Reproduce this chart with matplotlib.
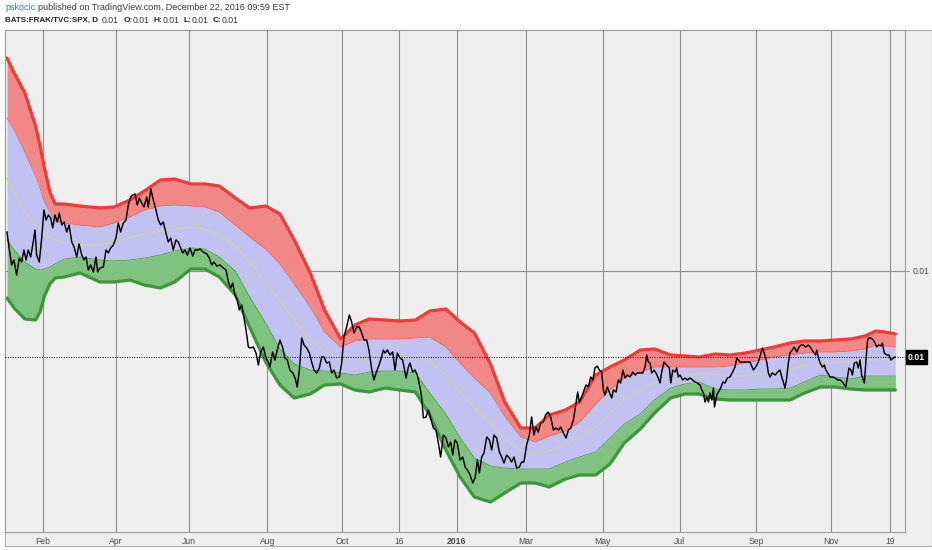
import matplotlib
matplotlib.use("Agg")
import matplotlib.pyplot as plt
import matplotlib.transforms as mtransforms
from matplotlib.patches import Rectangle

W, H = 932, 550

# ---------------- header texts ----------------
author = "pskocic"
published = "published on TradingView.com, December 22, 2016 09:59 EST"
symbol = "BATS:FRAK/TVC:SPX, D"
last_txt = "0.01"
ohlc_labels = ["O:", "H:", "L:", "C:"]
ohlc_values = ["0.01", "0.01", "0.01", "0.01"]

# ---------------- x axis (trading-day index) ----------------
tick_days = [20, 61, 102, 146, 188, 220, 252, 291, 334, 377, 420, 462, 495]
tick_labels = ["Feb", "Apr", "Jun", "Aug", "Oct", "16", "2016", "Mar", "May", "Jul", "Sep", "Nov", "19"]
bold_tick = "2016"

# ---------------- y axis ----------------
ytick_vals = [279]
ytick_labels = ["0.01"]
last_label = "0.01"

# ---------------- band series ----------------
band_day = [0, 4, 10, 16, 18.5, 21, 24, 27, 32, 41, 52, 60,
            69, 77, 86, 94, 103, 111, 119, 128, 136, 145,
            153, 161, 170, 178, 187, 195, 203, 212, 220, 229,
            237, 246, 254, 262, 271, 279, 288, 296, 304, 313,
            321, 330, 338, 346, 355, 363, 372, 380, 388, 397,
            405, 414, 422, 430, 439, 447, 456, 464, 473, 481,
            487, 492, 498]
upper = [492, 477, 457, 424, 404, 382, 358, 346, 346, 344, 342, 343,
         350, 359, 370, 371, 366, 366, 364, 352, 342, 344,
         336, 310, 277, 240, 211, 225, 231, 230, 229, 230,
         239, 241, 228, 217, 186, 148, 122, 122, 135, 140,
         148, 175, 183, 190, 200, 201, 195, 194, 193, 196,
         195, 197, 200, 203, 207, 209, 209, 210, 211, 214,
         219, 218, 216]
upper_inner = [432, 420, 398, 374, 362, 348, 338, 329, 327, 325, 323, 327,
               333, 340, 344, 345, 344, 343, 338, 325, 313, 301,
               286, 266, 243, 218, 203, 209, 211, 211, 211, 212,
               213, 203, 187, 172, 157, 134, 113, 108, 114, 119,
               128, 146, 160, 172, 178, 183, 183, 183, 183, 183,
               184, 187, 190, 193, 195, 197, 198, 198, 199, 201,
               205, 204, 203]
middle = [372, 356, 339, 325, 321, 316, 312, 310, 307, 305, 305, 308,
          313, 316, 319, 321, 323, 321, 315, 304, 288, 268,
          250, 230, 210, 199, 192, 190, 192, 193, 193, 193,
          188, 175, 158, 142, 126, 111, 100, 95, 99, 106,
          113, 123, 137, 151, 160, 167, 172, 175, 176, 176,
          174, 174, 176, 178, 181, 184, 185, 187, 188, 190,
          190, 191, 191]
lower_inner = [310, 300, 288, 281, 280, 281, 283, 286, 291, 293, 290, 289,
               290, 292, 295, 299, 302, 301, 293, 279, 253, 227,
               201, 186, 180, 179, 177, 175, 178, 179, 179, 177,
               157, 136, 112, 92, 84, 82, 81, 81, 81, 88,
               93, 98, 112, 126, 136, 150, 162, 166, 168, 161,
               160, 160, 161, 161, 162, 168, 175, 173, 171, 174,
               174, 174, 174]
lower = [252, 242, 231, 230, 238, 254, 266, 272, 273, 277, 268, 268,
         270, 265, 262, 268, 281, 281, 273, 255, 223, 188,
         165, 152, 156, 165, 166, 160, 158, 162, 160, 158,
         135, 100, 73, 53, 48, 57, 67, 67, 63, 71,
         75, 75, 86, 107, 121, 137, 152, 156, 156, 151,
         150, 150, 150, 150, 150, 157, 163, 163, 161, 160,
         160, 160, 160]

# ---------------- price series ----------------
price_day = [0, 1.1, 2.6, 3.9, 5.4, 6.9, 8.2, 9.5, 10.7, 11.9,
             13.3, 14.7, 15.7, 16.6, 18.1, 19.5, 20.7, 21.9, 23.2, 24.5,
             25.6, 26.9, 28.2, 29.3, 30.7, 32.0, 33.5, 34.8, 36.3, 37.6,
             39.1, 40.4, 41.9, 43.2, 44.3, 45.6, 46.9, 48.4, 49.9, 50.8,
             52.1, 54.0, 55.5, 56.8, 58.1, 59.6, 61.1, 62.4, 63.7, 65.2,
             66.7, 68.0, 69.3, 70.5, 71.8, 73.0, 74.2, 75.5, 76.8, 78.3,
             79.2, 80.6, 82.0, 83.5, 84.8, 86.2, 87.6, 89.1, 90.4, 91.8,
             93.2, 94.7, 96.0, 97.4, 98.5, 99.8, 101.1, 102.6, 104.1, 105.4,
             107.2,
             108.2, 110.0, 112.0, 113.4, 114.8, 116.0, 117.6, 119.4, 121.3, 122.8,
             124.1, 125.4, 126.5, 127.8, 129.1, 130.2, 131.6, 132.9, 134.0, 135.3,
             136.6, 138.1, 139.6, 140.9, 142.2, 143.7, 145.2, 146.5, 147.4, 148.9,
             150.2, 151.5, 153.0, 154.6, 155.8, 157.1, 158.6, 160.2, 161.5, 162.7,
             163.9, 165.2, 166.5, 168.0, 169.5, 170.8, 172.1, 173.6, 175.1, 176.4,
             177.7, 179.2, 180.7, 182.0, 183.3, 184.8, 186.3, 187.6, 188.9, 190.4,
             191.9, 193.2, 194.5, 196.0, 197.5, 198.8, 200.1, 201.6, 202.9, 204.5,
             205.7, 206.9, 208.2, 209.5, 211.0, 211.9, 213.2, 214.7, 216.2, 217.5,
             218.8, 220.3, 221.8, 223.7, 225.0, 225.9, 227.4, 228.7, 230.0, 231.5,
             232.5, 233.4, 234.9, 236.2, 237.5, 239.0, 240.5, 241.8, 243.1, 244.6,
             246.1, 247.4, 248.7, 249.9, 251.1, 252.4, 254.0, 255.5, 256.8, 258.1,
             259.6, 261.1, 262.4, 263.7, 264.8, 266.1, 267.4, 268.9, 270.4, 271.7,
             273.0, 274.5, 276.0, 277.3, 278.6, 280.1, 281.6, 282.9, 284.2, 285.7,
             287.2, 288.5, 289.8, 291.3, 292.8, 294.1, 295.4, 296.5, 297.8, 299.2,
             300.6, 301.9, 303.4, 304.8, 306.3, 307.8, 309.1, 310.4, 311.9, 313.4,
             314.7, 316.0, 317.5, 319.0, 319.9, 320.8,
             322.2, 323.5, 324.6, 325.9, 327.2, 328.4, 329.6, 330.9, 332.0, 333.4,
             334.3, 335.2, 336.5, 337.6, 339.0, 339.9, 341.4, 342.7, 344.0, 345.2,
             346.5, 347.7, 349.3, 350.8, 352.1, 353.4, 354.9, 356.4, 357.7, 358.6,
             359.5, 360.5, 361.4, 362.7, 363.8, 365.1, 366.1, 367.0, 368.3, 369.8,
             371.3, 372.1, 373.2, 374.5, 375.4, 376.3, 377.3, 378.8, 380.1, 381.4,
             382.9, 384.4, 385.7, 387.0, 388.5, 389.5, 390.4, 391.3, 392.3, 393.2,
             394.1, 395.1, 396.0, 396.6, 397.9, 398.8, 400.1, 401.3, 402.5, 403.8,
             405.3, 406.8, 408.1, 409.1, 410.0,
             410.9, 412.8, 414.7, 416.5, 418.4, 419.7, 421.2, 422.7, 423.4, 424.5,
             425.9, 426.8, 427.7, 429.0, 430.6, 432.1, 433.3, 434.3, 435.2, 436.1,
             437.1, 438.0, 438.9, 440.2, 441.3, 442.7, 444.0, 445.1, 446.4, 447.7,
             449.2, 450.7, 452.0, 453.3, 453.9, 454.8, 455.8, 457.1, 458.2, 459.0,
             460.1, 461.4, 462.7, 464.2, 465.7, 467.0, 468.3, 469.4, 470.2, 471.3,
             472.0, 473.1, 473.9, 475.0, 476.3, 477.2, 478.2, 479.1, 480.0, 480.6,
             481.4, 482.3, 482.8, 484.3, 485.6, 486.6, 487.5, 488.8, 489.9, 490.7,
             491.8, 493.2, 494.4, 495.5, 496.8, 497.7]
price_val = [318, 303, 285, 290, 275, 292, 288, 300, 290, 300,
             293, 308, 320, 295, 288, 313, 340, 330, 335, 332,
             322, 335, 328, 337, 325, 328, 318, 325, 308, 303,
             293, 306, 295, 290, 293, 280, 285, 278, 293, 278,
             282, 283, 300, 297, 302, 305, 312, 327, 318, 327,
             330, 345, 353, 355, 356, 345, 352, 347, 343, 353,
             343, 361, 350, 340, 330, 325, 328, 317, 308, 312,
             300, 310, 308, 302, 297, 300, 295, 302, 294, 300,
             300,
             301, 298, 296, 292, 285, 288, 284, 285, 282, 280,
             268, 262, 267, 255, 250, 240, 245, 232, 220, 203,
             202, 203, 197, 185, 198, 203, 192, 188, 183, 198,
             190, 200, 210, 202, 192, 190, 180, 177, 172, 163,
             180, 212, 205, 202, 197, 188, 180, 177, 182, 193,
             193, 187, 188, 177, 180, 172, 173, 187, 213, 223,
             235, 228, 217, 223, 223, 217, 210, 210, 200, 180,
             170, 177, 183, 190, 200, 197, 200, 195, 198, 180,
             197, 192, 190, 172, 183, 187, 178, 180, 175, 163,
             152, 132, 133, 140, 132, 122, 120, 107, 93, 115,
             112, 103, 108, 95, 110, 107, 90, 93, 83, 80,
             75, 67, 72, 90, 77, 93, 97, 113, 110, 100,
             115, 112, 98, 93, 87, 95, 92, 88, 93, 82,
             83, 88, 88, 105, 115, 133, 115, 123, 118, 127,
             128, 135, 138, 133, 120, 122, 120, 123, 117, 112,
             120, 122, 130, 147, 158, 148,
             153, 160, 165, 163, 173, 170, 182, 184, 180, 178,
             160, 155, 163, 158, 152, 160, 158, 170, 167, 180,
             172, 175, 173, 178, 175, 177, 177, 177, 183, 195,
             188, 187, 177, 180, 177, 172, 167, 178, 188, 185,
             182, 167, 180, 178, 182, 173, 175, 170, 172, 170,
             172, 170, 168, 167, 165, 160, 157, 148, 153, 148,
             157, 150, 162, 143, 155, 158, 162, 168, 167, 172,
             173, 178, 183, 192, 190,
             188, 188, 188, 188, 180, 183, 188, 197, 202, 197,
             188, 177, 173, 177, 175, 178, 180, 173, 168, 162,
             172, 187, 197, 200, 203, 198, 203, 205, 205, 203,
             205, 202, 198, 195, 200, 193, 187, 183, 185, 180,
             177, 173, 173, 172, 170, 170, 168, 165, 163, 175,
             182, 180, 175, 187, 188, 182, 190, 175, 170, 167,
             187, 208, 212, 212, 210, 207, 203, 205, 204, 207,
             197, 195, 195, 190, 192, 193]

# ---------------- styling ----------------
FONT = "Liberation Sans"
BG = "#efefef"
GRID = "#8e8e8e"
RED_LINE = "#f23b36"
RED_FILL = "#f28886"
BLUE_FILL = "#c2c2f2"
GREEN_FILL = "#80c280"
GREEN_LINE = "#3a983a"
MID_LINE = "#d2cdb4"

fig = plt.figure(figsize=(W / 100, H / 100), dpi=100)
fig.patch.set_facecolor("white")
panel = Rectangle((5 / W, (H - 546) / H), (W - 5) / W, (546 - 30) / H,
                  transform=fig.transFigure, facecolor=BG,
                  edgecolor="#b0b0b0", lw=0.8, zorder=-10)
fig.patches.append(panel)

ax = fig.add_axes([5 / W, (H - 532) / H, 900 / W, 502 / H])
ax.set_zorder(1)
ax.set_facecolor(BG)
ax.set_xlim(-1.12, 503.4)
ax.set_ylim(18, 520)

for d in tick_days:
    ax.axvline(d, color=GRID, lw=0.8, zorder=0.5)
for v in ytick_vals:
    ax.axhline(v, color=GRID, lw=0.8, zorder=0.5)

ax.fill_between(band_day, upper_inner, upper, color=RED_FILL, lw=0, zorder=1)
ax.fill_between(band_day, lower_inner, upper_inner, color=BLUE_FILL, lw=0, zorder=1)
ax.fill_between(band_day, lower, lower_inner, color=GREEN_FILL, lw=0, zorder=1)

ax.plot(band_day, middle, color=MID_LINE, lw=0.9, zorder=2)
ax.plot(band_day, upper_inner, color="#ee6666", lw=0.6, zorder=2)
ax.plot(band_day, lower_inner, color="#4c9f4c", lw=0.6, zorder=2)
ax.plot(band_day, upper, color=RED_LINE, lw=2.3, zorder=2.5,
        solid_capstyle="round", solid_joinstyle="round")
ax.plot(band_day, lower, color=GREEN_LINE, lw=2.3, zorder=2.5,
        solid_capstyle="round", solid_joinstyle="round")

ax.plot(price_day, price_val, color="black", lw=1.05, zorder=3)
ax.axhline(price_val[-1], color="black", lw=0.7, ls=(0, (1, 1.5)), zorder=3.5)

for s in ax.spines.values():
    s.set_color("#9a9a9a")
    s.set_linewidth(0.8)

ax.set_xticks(tick_days)
ax.set_xticklabels(tick_labels)
ax.tick_params(axis="x", length=0, pad=3.5, labelsize=6.2, labelcolor="#4a4a4a")
for lab in ax.get_xticklabels():
    lab.set_fontfamily(FONT)
    if lab.get_text() == bold_tick:
        lab.set_fontweight("bold")

ax.yaxis.tick_right()
ax.set_yticks(ytick_vals)
ax.set_yticklabels(ytick_labels)
ax.tick_params(axis="y", length=3, width=0.8, color="#9a9a9a", pad=2.5,
               labelsize=6.2, labelcolor="#4a4a4a")
for lab in ax.get_yticklabels():
    lab.set_fontfamily(FONT)

# last value marker on the price scale
trans = mtransforms.blended_transform_factory(ax.transAxes, ax.transData)
ax.text(1.0 + 3 / 900, price_val[-1], last_label, transform=trans, ha="left", va="center",
        fontsize=6.2, fontweight="bold", color="white", family=FONT, zorder=5, clip_on=False,
        bbox=dict(boxstyle="square,pad=0.25", fc="black", ec="black"))

# ---------------- header ----------------
renderer = fig.canvas.get_renderer()


def text_width(s, weight, fs):
    t = fig.text(0, 0, s, fontsize=fs, fontweight=weight, family=FONT)
    w = t.get_window_extent(renderer).width
    t.remove()
    return w


def draw_line(x, y, parts, gapfrac):
    for s, weight, color, gap, fs in parts:
        space = (text_width("a a", "normal", fs) - text_width("aa", "normal", fs)) * gapfrac
        t = fig.text(x / W, 1 - y / H, s, fontsize=fs, fontweight=weight, color=color,
                     family=FONT, ha="left", va="center")
        x += t.get_window_extent(renderer).width + (space if gap else 0)


draw_line(5, 7.5, [(author, "normal", "#2b88c0", True, 6.5),
                   (published, "normal", "#3a3a3a", False, 6.5)], 1.0)
line2 = [(symbol, "bold", "#222222", True, 5.8), (last_txt, "normal", "#333333", True, 6.2)]
for lab, val in zip(ohlc_labels, ohlc_values):
    line2.append((lab, "bold", "#222222", False, 6.0))
    line2.append((val, "normal", "#333333", True, 6.2))
draw_line(5, 20.5, line2, 1.8)

fig.savefig("out.png", dpi=100, facecolor=fig.get_facecolor())
